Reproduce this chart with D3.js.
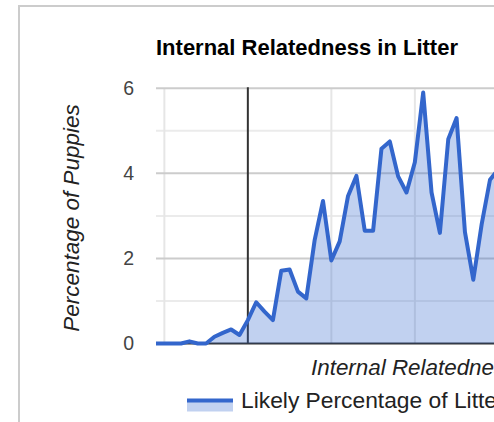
<!DOCTYPE html>
<html>
<head>
<meta charset="utf-8">
<script src="https://cdn.jsdelivr.net/npm/d3@7"></script>
<style>
  body { margin: 0; background: #fff; }
  svg { display: block; font-family: Arial, "Liberation Sans", sans-serif; }
</style>
</head>
<body>
<div id="chart"></div>
<script>
// internal relatedness values (x) and percentage of puppies (y)
var relatedness = [-0.11, -0.10, -0.09, -0.08, -0.07, -0.06, -0.05, -0.04, -0.03, -0.02,
  -0.01, 0.00, 0.01, 0.02, 0.03, 0.04, 0.05, 0.06, 0.07, 0.08,
  0.09, 0.10, 0.11, 0.12, 0.13, 0.14, 0.15, 0.16, 0.17, 0.18,
  0.19, 0.20, 0.21, 0.22, 0.23, 0.24, 0.25, 0.26, 0.27, 0.28,
  0.29, 0.30];
var percentage = [0, 0, 0, 0, 0.05, 0, 0, 0.16, 0.25, 0.33,
  0.2, 0.55, 0.97, 0.75, 0.55, 1.71, 1.74, 1.22, 1.06, 2.43,
  3.35, 1.95, 2.4, 3.47, 3.94, 2.65, 2.65, 4.58, 4.75, 3.93,
  3.55, 4.26, 5.9, 3.55, 2.6, 4.8, 5.3, 2.62, 1.5, 2.8,
  3.85, 4.1];

var yMajor = [0, 2, 4, 6];
var yMinor = [1, 3, 5];
var xGrid = [-0.1, 0.1, 0.2, 0.3];

var svgWidth = 494;
var svgHeight = 422;

var svg = d3.select("#chart")
  .append("svg")
  .attr("width", svgWidth)
  .attr("height", svgHeight);

// outer frame, runs off the right and bottom edges
svg.append("rect")
  .attr("x", 19)
  .attr("y", 6)
  .attr("width", 1000)
  .attr("height", 1000)
  .attr("fill", "none")
  .attr("stroke", "#cccccc")
  .attr("stroke-width", 2);

var xScale = d3.scaleLinear()
  .domain([-0.11, 0.4])
  .range([156, 156 + 51 * 8.35]);

var yScale = d3.scaleLinear()
  .domain([0, 6])
  .range([343.5, 88.3]);

var plotRight = xScale(0.4);

// gridlines
svg.append("g")
  .selectAll("line")
  .data(yMinor)
  .enter()
  .append("line")
  .attr("x1", 156).attr("x2", plotRight)
  .attr("y1", d => yScale(d)).attr("y2", d => yScale(d))
  .attr("stroke", "#ebebeb")
  .attr("stroke-width", 2);

svg.append("g")
  .selectAll("line")
  .data(xGrid)
  .enter()
  .append("line")
  .attr("x1", d => xScale(d)).attr("x2", d => xScale(d))
  .attr("y1", yScale(6)).attr("y2", yScale(0))
  .attr("stroke", "#e6e6e6")
  .attr("stroke-width", 2);

svg.append("g")
  .selectAll("line")
  .data(yMajor.filter(d => d !== 0))
  .enter()
  .append("line")
  .attr("x1", 156).attr("x2", plotRight)
  .attr("y1", d => yScale(d)).attr("y2", d => yScale(d))
  .attr("stroke", "#cccccc")
  .attr("stroke-width", 2);

// baselines
svg.append("line")
  .attr("x1", xScale(0)).attr("x2", xScale(0))
  .attr("y1", yScale(6) - 1).attr("y2", yScale(0))
  .attr("stroke", "#333333")
  .attr("stroke-width", 2);

svg.append("line")
  .attr("x1", 156).attr("x2", plotRight)
  .attr("y1", yScale(0)).attr("y2", yScale(0))
  .attr("stroke", "#333333")
  .attr("stroke-width", 2);

var points = relatedness.map((r, i) => [r, percentage[i]]);

var area = d3.area()
  .x(d => xScale(d[0]))
  .y0(yScale(0))
  .y1(d => yScale(d[1]));

var line = d3.line()
  .x(d => xScale(d[0]))
  .y(d => yScale(d[1]));

svg.append("path")
  .datum(points)
  .attr("d", area)
  .attr("fill", "#3366cc")
  .attr("fill-opacity", 0.3);

svg.append("path")
  .datum(points)
  .attr("d", line)
  .attr("fill", "none")
  .attr("stroke", "#3366cc")
  .attr("stroke-width", 4)
  .attr("stroke-linejoin", "round");

// y axis labels
var yAxis = svg.append("g")
  .attr("transform", "translate(134, 0)")
  .call(d3.axisLeft(yScale).tickValues(yMajor).tickFormat(d3.format("d")).tickSize(0).tickPadding(0));
yAxis.select(".domain").remove();
yAxis.selectAll("text")
  .attr("font-size", 19.5)
  .attr("font-family", "Arial, 'Liberation Sans', sans-serif")
  .attr("fill", "#444444");

// title
svg.append("text")
  .attr("x", 156)
  .attr("y", 55)
  .attr("font-size", 22)
  .attr("font-weight", "bold")
  .attr("fill", "#000")
  .text("Internal Relatedness in Litter");

// axis titles
svg.append("text")
  .attr("transform", "translate(79, 218) rotate(-90)")
  .attr("text-anchor", "middle")
  .attr("font-size", 22.5)
  .attr("font-style", "italic")
  .attr("fill", "#222")
  .text("Percentage of Puppies");

svg.append("text")
  .attr("x", 311)
  .attr("y", 375)
  .attr("font-size", 22.4)
  .attr("font-style", "italic")
  .attr("fill", "#222")
  .text("Internal Relatedness");

// legend
svg.append("rect")
  .attr("x", 187).attr("y", 400.5)
  .attr("width", 46).attr("height", 11)
  .attr("fill", "#3366cc")
  .attr("fill-opacity", 0.3);
svg.append("line")
  .attr("x1", 187).attr("x2", 233)
  .attr("y1", 400.5).attr("y2", 400.5)
  .attr("stroke", "#3366cc")
  .attr("stroke-width", 4);
svg.append("text")
  .attr("x", 241)
  .attr("y", 407.5)
  .attr("font-size", 22.8)
  .attr("fill", "#222")
  .text("Likely Percentage of Litter");
</script>
</body>
</html>
